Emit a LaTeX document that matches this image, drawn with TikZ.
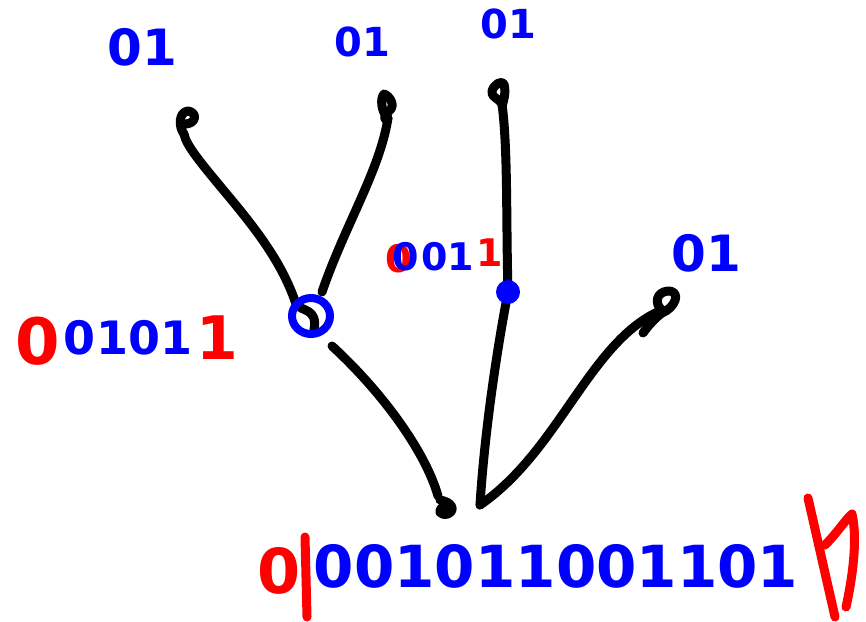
\documentclass[tikz,border=0pt]{standalone}
\usepackage{fontspec}
\setmainfont{DejaVu Sans}
\definecolor{inkblue}{RGB}{0,0,255}
\definecolor{inkred}{RGB}{255,0,0}
\begin{document}
\begin{tikzpicture}[x=1pt,y=-1pt,
  edge/.style={line width=9pt,line cap=round,line join=round,black},
  bits/.style={font=\bfseries\fontsize{#1}{#1}\selectfont,text=inkblue,inner sep=0pt,anchor=center},
  redbits/.style={bits=#1,text=inkred},
  redbar/.style={line width=9pt,line cap=round,line join=round,inkred},
  ring/.style={line width=8pt,inkblue}]
\useasboundingbox (0,0) rectangle (866,621);

% tree points
\coordinate (leafA) at (184,134);
\coordinate (leafB) at (388,118);
\coordinate (leafC) at (502,104);
\coordinate (leafD) at (662,310);
\coordinate (inner) at (311,316);
\coordinate (mid) at (508,292);
\coordinate (rootL) at (440,500);
\coordinate (rootR) at (480,505);

% leaf curls
\draw[edge] (leafA) .. controls (178,126) and (179,112) .. (188,111) .. controls (197,112) and (197,123) .. (186,124);
\draw[edge] (leafB) .. controls (381,112) and (380,98) .. (384,94) .. controls (390,96) and (396,106) .. (389,111) .. controls (386,113) and (384,116) .. (385,119);
\draw[edge] (leafC) .. controls (500,99) and (490,97) .. (492,91) .. controls (494,84) and (502,80) .. (504,84) .. controls (506,92) and (504,100) .. (502,106);
\draw[edge] (leafD) .. controls (654,304) and (656,292) .. (668,291) .. controls (682,291) and (675,308) .. (662,313) .. controls (655,318) and (648,326) .. (643,333);

% branches
\draw[edge] (leafA) .. controls (186,145) and (200,162) .. (225,192)
  .. controls (255,228) and (282,262) .. (296,304)
  .. controls (302,312) and (318,308) .. (314,330);
\draw[edge] (leafB) .. controls (380,170) and (345,225) .. (322,292);
\draw[edge] (332,346) .. controls (380,390) and (425,450) .. (438,496);
\draw[edge] (rootL) .. controls (452,502) and (456,510) .. (448,514) .. controls (440,516) and (436,510) .. (444,507);
\draw[edge] (rootR) .. controls (484,440) and (495,360) .. (mid);
\draw[edge] (mid) .. controls (506,220) and (508,150) .. (leafC);
\draw[edge] (rootR) .. controls (560,450) and (590,340) .. (leafD);

% node markers
\draw[ring] (inner) ellipse [x radius=19, y radius=18];
\fill[inkblue] (mid) circle (12);

% bit strings
\node[bits=50] (t1) at (142,47) {01};
\node[bits=40] (t2) at (362,42) {01};
\node[bits=40] (t3) at (508,24) {01};
\node[bits=50] (t4) at (706,253) {01};

\node[bits=38] (m) at (444,256)
  {\raisebox{-2pt}{\textcolor{inkred}{0}}\kern-0.5em0\kern0.05em01\kern0.05em\raisebox{4pt}{\textcolor{inkred}{1}}};

\node[redbits=64] (l0) at (38,341) {0};
\node[bits=46] (l1) at (128,338) {0101};
\node[redbits=60] (l2) at (217,338) {1};

\node[redbits=62] (b0) at (279,571) {0};
\draw[redbar] (305,537) -- (307,617);
\node[bits=58] (b1) at (556,566) {001011001101};
\draw[redbar] (808,498) -- (835,617);
\draw[redbar] (825,545) .. controls (838,532) and (845,520) .. (852,514) .. controls (858,540) and (852,580) .. (846,607);
\end{tikzpicture}
\end{document}
